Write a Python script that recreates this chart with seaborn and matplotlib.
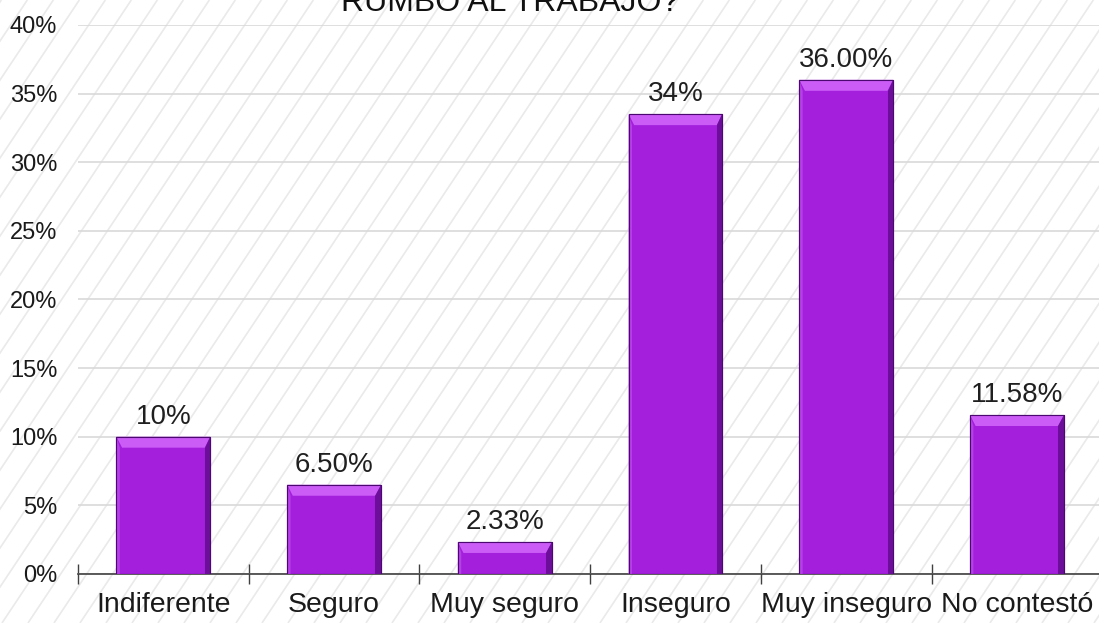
import matplotlib
matplotlib.use("Agg")
import matplotlib.pyplot as plt
import seaborn as sns
import pandas as pd
import numpy as np
from matplotlib.patches import Rectangle, Polygon
from matplotlib.ticker import FuncFormatter, FixedLocator

# --- datos ---
categorias = ["Indiferente", "Seguro", "Muy seguro", "Inseguro", "Muy inseguro", "No contestó"]
porcentajes = [10.0, 6.50, 2.33, 33.5, 36.00, 11.58]
etiquetas = ["10%", "6.50%", "2.33%", "34%", "36.00%", "11.58%"]
titulo = "RUMBO AL TRABAJO?"

sns.set_theme(style="white")
plt.rcParams['font.family'] = ['Liberation Sans', 'DejaVu Sans']

df = pd.DataFrame({'categoria': categorias, 'pct': porcentajes})

fig = plt.figure(figsize=(10.99, 6.23), dpi=100)
fig.patch.set_facecolor('white')

# --- fondo rayado ---
bg = fig.add_axes([0, 0, 1, 1], zorder=0)
bg.set_xlim(0, 1099)
bg.set_ylim(0, 623)
bg.axis('off')
for x0 in np.arange(-700, 1120, 26):
    bg.plot([x0, x0 + 623 / 1.5], [0, 623], color='#EAEAEA', lw=1.2, solid_capstyle='butt')

ax = fig.add_axes([0.071, 0.0787, 0.932, 0.8813], zorder=1)
ax.patch.set_alpha(0)

sns.barplot(data=df, x='categoria', y='pct', ax=ax, color='#A31FDC',
            width=0.55, saturation=1, edgecolor='#4A0870', linewidth=0.8, zorder=3)

# bisel simple
for p in ax.patches:
    x, w, h = p.get_x(), p.get_width(), p.get_height()
    band = 0.8
    side = w * 0.06
    ax.add_patch(Polygon([[x, h], [x + w, h], [x + w - side, h - band], [x + side, h - band]],
                         closed=True, facecolor='#CB5CF5', edgecolor='none', zorder=4))
    ax.add_patch(Polygon([[x + w, h], [x + w, 0], [x + w - side, 0], [x + w - side, h - band]],
                         closed=True, facecolor='#6C0E9A', edgecolor='none', zorder=4))
    ax.add_patch(Polygon([[x, h], [x + side * 0.6, h - band], [x + side * 0.6, 0], [x, 0]],
                         closed=True, facecolor='#B640E8', edgecolor='none', zorder=4))
    ax.add_patch(Rectangle((x, 0), w, h, facecolor='none', edgecolor='#4A0870', lw=0.8, zorder=5))

for p, lab in zip(ax.patches[:len(etiquetas)], etiquetas):
    ax.text(p.get_x() + p.get_width() / 2, p.get_height() + 0.5, lab,
            ha='center', va='bottom', fontsize=20, color='#1f1f1f', zorder=6)

ax.set_ylim(0, 40)
ax.set_xlim(-0.5, 5.5)
ax.set_yticks(np.arange(0, 41, 5))
ax.yaxis.set_major_formatter(FuncFormatter(lambda v, _: f"{v:.0f}%"))
ax.yaxis.grid(True, color='#D9D9D9', lw=1.2, zorder=0)
ax.set_axisbelow(True)

ax.xaxis.set_minor_locator(FixedLocator(np.arange(-0.5, 6, 1)))
ax.tick_params(axis='x', which='major', length=0, labelsize=20.5, pad=13, colors='#1a1a1a')
ax.tick_params(axis='x', which='minor', direction='inout', length=14, width=1, color='#404040', bottom=True)
ax.tick_params(axis='y', length=0, labelsize=17, pad=15, colors='#1a1a1a')

for s in ['top', 'right', 'left']:
    ax.spines[s].set_visible(False)
ax.spines['bottom'].set_color('#404040')
ax.spines['bottom'].set_linewidth(1.2)

ax.set_xlabel("")
ax.set_ylabel("")

# título (parcialmente recortado en el original)
fig.text(0.464, 0.982, titulo, ha='center', va='baseline', fontsize=23, color='#111111')

fig.savefig("out.png", dpi=100)
